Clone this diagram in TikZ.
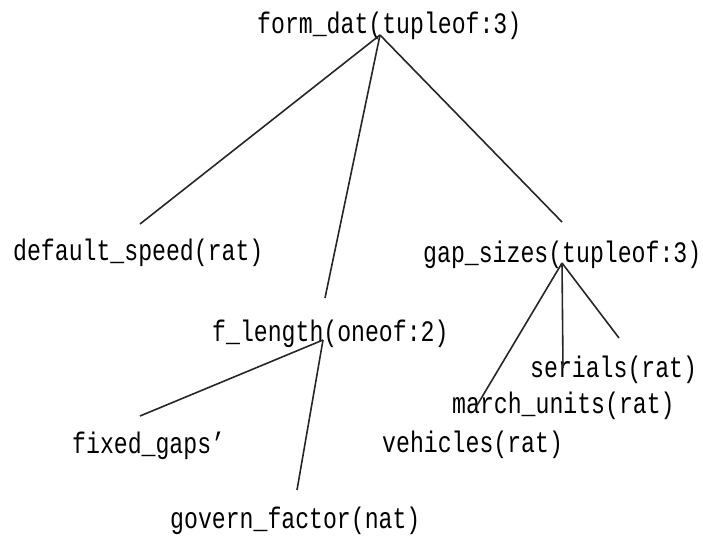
\documentclass[tikz,border=0pt]{standalone}
\usepackage{fontspec}
\usetikzlibrary{positioning}

\newfontfamily\treefont[FakeStretch=0.78]{Liberation Mono}

\tikzset{
    lbl/.style={font=\treefont\fontsize{29.7}{30}\selectfont, inner sep=0pt, anchor=base west},
    branch/.style={line width=1.6pt, black!85}
}

\begin{document}
\begin{tikzpicture}[x=1pt, y=-1pt]
    \useasboundingbox (0,0) rectangle (703,538);

    % labels
    \node[lbl] (form)     at (257,33)  {form\_dat(tupleof:3)};
    \node[lbl] (speed)    at (13,260)  {default\_speed(rat)};
    \node[lbl] (gaps)     at (423,262) {gap\_sizes(tupleof:3)};
    \node[lbl] (length)   at (212,341) {f\_length(oneof:2)};
    \node[lbl] (serials)  at (530,377) {serials(rat)};
    \node[lbl] (march)    at (452,413) {march\_units(rat)};
    \node[lbl] (vehicles) at (382,452) {vehicles(rat)};
    \node[lbl] (fixed)    at (72,453)  {fixed\_gaps’};
    \node[lbl] (govern)   at (170,528) {govern\_factor(nat)};

    % branch points and free ends
    \coordinate (form_x)   at (380,35);
    \coordinate (gaps_x)   at (562,263);
    \coordinate (length_x) at (323,340);
    \coordinate (speed_e)  at (140,224);
    \coordinate (length_e) at (325,298);
    \coordinate (gaps_e)   at (562,222);
    \coordinate (veh_e)    at (476,407);
    \coordinate (march_e)  at (563,368);
    \coordinate (serial_e) at (619,338);
    \coordinate (fixed_e)  at (140,416);
    \coordinate (govern_e) at (297,490);

    \path[branch]
    (form_x)    edge (speed_e)
                edge (length_e)
                edge (gaps_e)
    (gaps_x)    edge (veh_e)
                edge (march_e)
                edge (serial_e)
    (length_x)  edge (fixed_e)
                edge (govern_e);

\end{tikzpicture}
\end{document}
